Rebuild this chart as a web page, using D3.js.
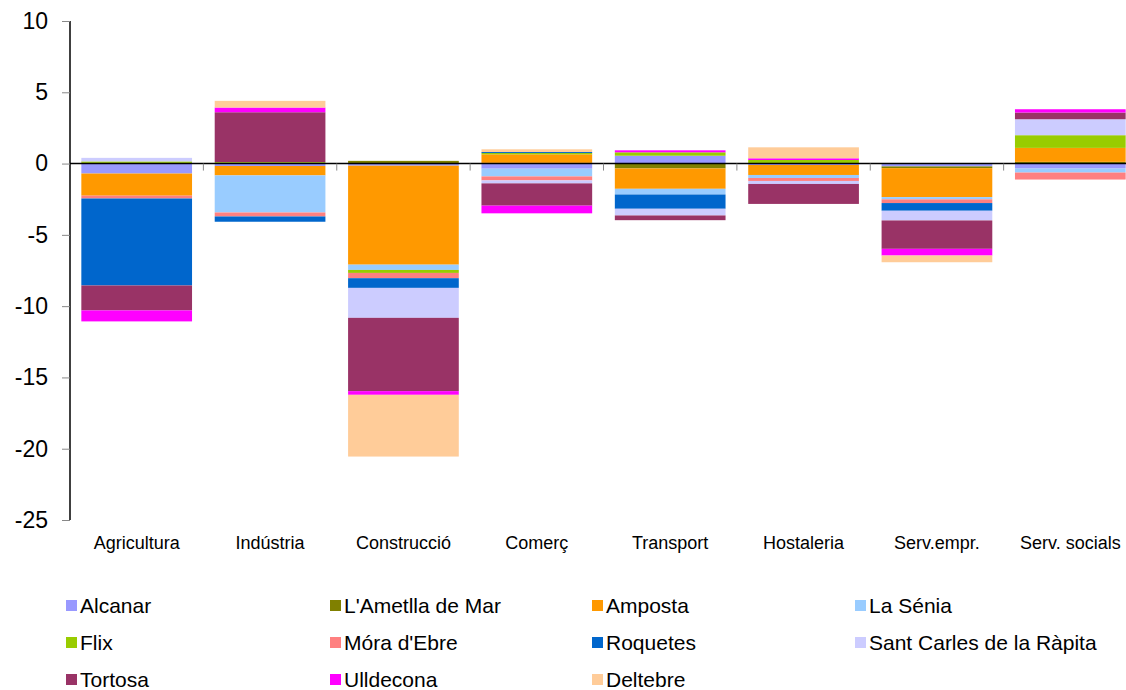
<!DOCTYPE html>
<html><head><meta charset="utf-8">
<script src="https://cdn.jsdelivr.net/npm/d3@7"></script>
<style>body{margin:0;background:#fff}svg{display:block}text{font-family:"Liberation Sans",Arial,sans-serif}</style>
</head><body><svg id="c" width="1126" height="690"></svg>
<script>
const categories = ["Agricultura","Indústria","Construcció","Comerç","Transport","Hostaleria","Serv.empr.","Serv. socials"];
const seriesNames = ["Alcanar","L'Ametlla de Mar","Amposta","La Sénia","Flix","Móra d'Ebre","Roquetes","Sant Carles de la Ràpita","Tortosa","Ulldecona","Deltebre"];
const colors = ["#9999FF","#808000","#FF9900","#99CCFF","#99CC00","#FF8080","#0066CC","#CCCCFF","#993366","#FF00FF","#FFCC99"];
const alcanar   = [-0.7, -0.17, -0.15, -0.36,  0.55, -0.1,  -0.2,  -0.35];
const ametlla   = [0.05,  0.0,   0.19,  0.05, -0.34,  0.0,  -0.12,  0.12];
const amposta   = [-1.55,-0.66, -6.94,  0.6,  -1.43, -0.7,  -2.03,  0.98];
const lasenia   = [0.0,  -2.6,  -0.37,  -0.54, -0.4, -0.21, -0.16, -0.28];
const flix      = [0.1,   0.1,  -0.21,  0.09,  0.24,  0.25,  0.02,  0.89];
const mora      = [-0.2, -0.28, -0.37, -0.28,  0.0,  -0.21, -0.26, -0.49];
const roquetes  = [-6.1, -0.37, -0.68,  0.07, -1.0,   0.0,  -0.54,  0.0];
const santcarles= [0.25,  0.0,  -2.1,  -0.21, -0.47, -0.21, -0.68,  1.12];
const tortosa   = [-1.75, 3.5,  -5.14, -1.56, -0.33, -1.4,  -1.99,  0.47];
const ulldecona = [-0.77, 0.33, -0.26, -0.54,  0.14,  0.12, -0.47,  0.23];
const deltebre  = [0.0,   0.47, -4.33,  0.19,  0.0,   0.77, -0.47,  0.0];
const seriesValues = [alcanar, ametlla, amposta, lasenia, flix, mora, roquetes, santcarles, tortosa, ulldecona, deltebre];
const yTicks = [10,5,0,-5,-10,-15,-20,-25];

const svg = d3.select("#c");
const pLeft = 70, pRight = 1137, pTop = 21, pBottom = 520;
const x = d3.scaleBand().domain(categories).range([pLeft, pRight]).paddingInner(0.17).paddingOuter(0.085);
const xb = d3.scaleBand().domain(categories).range([pLeft, pRight]);
const y = d3.scaleLinear().domain([-25, 10]).range([pBottom, pTop]);

// stack with positive/negative separation
const rects = [];
categories.forEach((c, ci) => {
  let pos = 0, neg = 0;
  seriesValues.forEach((s, si) => {
    const v = s[ci];
    if (v === 0) return;
    let y0, y1;
    if (v > 0) { y0 = pos; y1 = pos + v; pos = y1; }
    else { y0 = neg; y1 = neg + v; neg = y1; }
    rects.push({c, si, y0, y1});
  });
});
svg.append("g").selectAll("rect").data(rects).join("rect")
  .attr("x", d => x(d.c)).attr("width", x.bandwidth())
  .attr("y", d => y(Math.max(d.y0, d.y1)))
  .attr("height", d => Math.abs(y(d.y0) - y(d.y1)))
  .attr("fill", d => colors[d.si]);

// y axis
const ya = svg.append("g").attr("transform", `translate(${pLeft},0)`)
  .call(d3.axisLeft(y).tickValues(yTicks).tickSize(8).tickPadding(14).tickFormat(d => String(d)));
ya.select(".domain").attr("stroke", "#000").attr("stroke-width", 1.5).attr("d", `M0,${pTop}V${pBottom}`);
ya.selectAll(".tick line").attr("stroke", "#888");
ya.selectAll(".tick text").attr("font-size", 23).attr("fill", "#000").attr("font-family", '"Liberation Sans",Arial,sans-serif');

// zero line & category tick marks
svg.append("line").attr("x1", pLeft).attr("x2", 1126).attr("y1", y(0)).attr("y2", y(0)).attr("stroke", "#000").attr("stroke-width", 1.5);
svg.append("g").selectAll("line").data(categories.slice(1)).join("line")
  .attr("x1", d => xb(d)).attr("x2", d => xb(d)).attr("y1", y(0)).attr("y2", y(0) + 7).attr("stroke", "#888");

// category labels
svg.append("g").selectAll("text").data(categories).join("text")
  .attr("x", d => xb(d) + xb.bandwidth() / 2).attr("y", 549).attr("text-anchor", "middle")
  .attr("font-size", 18).attr("fill", "#000").text(d => d);

// legend
const colX = [66, 330, 592, 855];
const rowY = [606, 643, 680];
const lg = svg.append("g").selectAll("g").data(seriesNames).join("g")
  .attr("transform", (d, i) => `translate(${colX[i % 4]},${rowY[Math.floor(i / 4)]})`);
lg.append("rect").attr("x", 0).attr("y", -6).attr("width", 11).attr("height", 11).attr("fill", (d, i) => colors[i]);
lg.append("text").attr("x", 14).attr("y", 7).attr("font-size", 21).attr("fill", "#000").text(d => d);
</script></body></html>
